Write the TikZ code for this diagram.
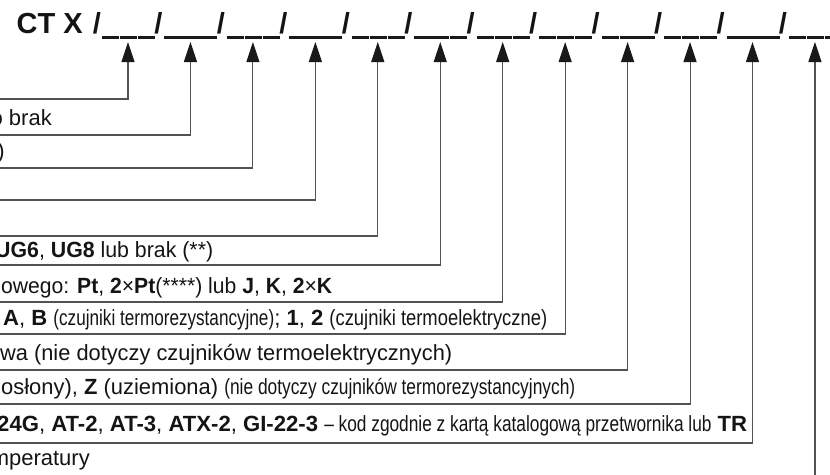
\documentclass[tikz,border=0pt]{standalone}
\usepackage{fontspec}
\setmainfont{Liberation Sans}
\usepackage{graphicx}
\usetikzlibrary{arrows.meta}
% text fitted horizontally to a given width (height kept)
\newcommand{\narw}[2]{\resizebox{#1pt}{\height}{#2}}
\begin{document}
\begin{tikzpicture}[x=1pt,y=-1pt,
  conn/.style={draw=black!68, line width=1.1pt, -{Triangle[length=20pt,width=13pt,color=black!90]}},
  lbl/.style={anchor=base east, inner sep=0pt, text=black!92, font=\fontsize{22}{25}\selectfont},
  lblw/.style={anchor=base west, inner sep=0pt, text=black!92, font=\fontsize{22}{25}\selectfont},
  ttl/.style={anchor=base east, inner sep=0pt, text=black!92, font=\fontsize{29}{32}\selectfont\bfseries},
  slash/.style={anchor=base, inner sep=0pt, text=black!92, font=\fontsize{29}{32}\selectfont\bfseries},
  uline/.style={line width=3pt, draw=black!90, dash pattern=on 17.3pt off 0.6pt}]
\useasboundingbox (0,0) rectangle (830,474);
\clip (0,0) rectangle (830,474);
% title
\node[ttl] (title) at (83,33) {CT X};
\node[slash] (sl0) at (97,33) {/};
\foreach \i in {0,...,11}{
  \pgfmathsetmacro\xx{128+62.45*\i}
  \coordinate (s\i) at (\xx,42);
  \draw[uline] (\xx-26,37.5) -- (\xx+27,37.5);
  \ifnum\i<11 \node[slash] (sl\i x) at (\xx+30.5,33) {/};\fi
}
% row start points (left edge)
\coordinate (r0) at (-3,99);
\coordinate (r1) at (-3,135);
\coordinate (r2) at (-3,168);
\coordinate (r3) at (-3,200);
\coordinate (r4) at (-3,236);
\coordinate (r5) at (-3,265);
\coordinate (r6) at (-3,302);
\coordinate (r7) at (-3,334);
\coordinate (r8) at (-3,370);
\coordinate (r9) at (-3,404);
\coordinate (r10) at (-3,443);
\coordinate (r11) at (-3,490);
\foreach \i in {0,...,11}{ \draw[conn] (r\i) -| (s\i); }
% labels
\node[lbl] (t1) at (52,125) {o brak};
\node[lbl] (t2) at (5,158) {)};
\node[lblw] (t5) at (-5,257) {\narw{218}{\textbf{UG6}, \textbf{UG8} lub brak (**)}};
\node[lblw] (t6) at (1,293) {\narw{331}{owego: \textbf{Pt}, \textbf{2}×\textbf{Pt}(****) lub \textbf{J}, \textbf{K}, \textbf{2}×\textbf{K}}};
\node[lblw] (t7) at (3,325) {\narw{544}{\textbf{A}, \textbf{B} \narw{220}{(czujniki termorezystancyjne)}; \textbf{1}, \textbf{2} \narw{217}{(czujniki termoelektryczne)}}};
\node[lblw] (t8) at (0,360) {\narw{452}{wa (nie dotyczy czujników termoelektrycznych)}};
\node[lblw] (t9) at (1,394) {\narw{574}{osłony), \textbf{Z} (uziemiona) \narw{352}{(nie dotyczy czujników termorezystancyjnych)}}};
\node[lblw] (t10) at (-3,431) {\narw{750}{\textbf{24G}, \textbf{AT-2}, \textbf{AT-3}, \textbf{ATX-2}, \textbf{GI-22-3} \narw{385}{– kod zgodnie z kartą katalogową przetwornika lub} \textbf{TR}}};
\node[lbl] (t11) at (90,465) {mperatury};
\end{tikzpicture}
\end{document}
